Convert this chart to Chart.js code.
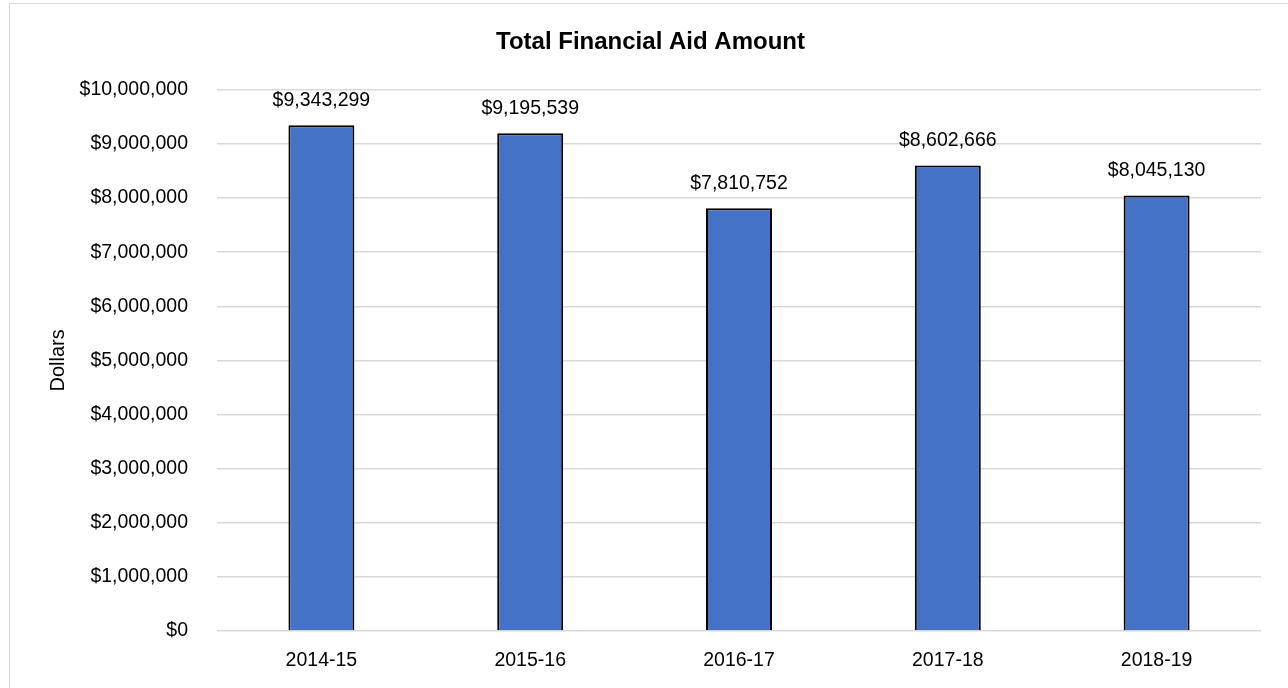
<!DOCTYPE html>
<html>
<head>
<meta charset="utf-8">
<title>Total Financial Aid Amount</title>
<script src="https://cdn.jsdelivr.net/npm/chart.js@4"></script>
<style>
  html, body { margin: 0; padding: 0; background: #fff; overflow: hidden; }
  #wrap { position: relative; width: 1288px; height: 688px; }
  #frame { position: absolute; left: 9px; top: 3px; width: 1400px; height: 800px; border: 1px solid #d9d9d9; box-sizing: border-box; }
  #chart-box { position: absolute; left: 0; top: 0; width: 1288px; height: 688px; }
</style>
</head>
<body>
<div id="wrap">
  <div id="frame"></div>
  <div id="chart-box"><canvas id="aid-chart"></canvas></div>
</div>
<script>
var years = ["2014-15", "2015-16", "2016-17", "2017-18", "2018-19"]
var aidAmount = [9343299, 9195539, 7810752, 8602666, 8045130]
var yMin = 0
var yMax = 10000000
var yStep = 1000000

var fontFamily = "'Liberation Sans', Arial, sans-serif"

function money(v) {
    return "$" + Number(v).toLocaleString("en-US")
}

// labels above each bar
var barLabels = {
    id: "barLabels",
    afterDatasetsDraw: function (chart) {
        let ctx = chart.ctx
        let meta = chart.getDatasetMeta(0)
        ctx.save()
        ctx.font = "19.5px " + fontFamily
        ctx.fillStyle = "#000"
        ctx.textAlign = "center"
        ctx.textBaseline = "middle"
        meta.data.forEach(function (bar, i) {
            ctx.fillText(money(chart.data.datasets[0].data[i]), bar.x, bar.y - 25)
        })
        ctx.restore()
    }
}

var myBarChart = new Chart("aid-chart", {
    type: "bar",
    data: {
        labels: years,
        datasets: [
            {
                label: "Total Financial Aid Amount",
                data: aidAmount,
                backgroundColor: "#4472c4",
                borderColor: "#000",
                borderWidth: 2,
                borderSkipped: "bottom",
                categoryPercentage: 1,
                barPercentage: 0.316
            }
        ]
    },
    options: {
        responsive: true,
        maintainAspectRatio: false,
        animation: false,
        layout: { padding: { left: 40, right: 27, top: 0, bottom: 0 } },
        plugins: {
            legend: { display: false },
            tooltip: { enabled: false },
            title: {
                display: true,
                text: "Total Financial Aid Amount",
                color: "#000",
                font: { family: fontFamily, size: 24, weight: "bold", lineHeight: 1.2 },
                padding: { top: 28, bottom: 33 }
            }
        },
        scales: {
            x: {
                grid: { display: false, drawTicks: false },
                border: { display: false },
                ticks: { color: "#000", padding: 18, font: { family: fontFamily, size: 19.5 } },
                afterFit: function (scale) { scale.height = 57 }
            },
            y: {
                min: yMin,
                max: yMax,
                ticks: {
                    stepSize: yStep,
                    color: "#000",
                    padding: 29,
                    font: { family: fontFamily, size: 19.5 },
                    callback: function (v) { return money(v) }
                },
                grid: { color: "#d9d9d9", lineWidth: 1.5, drawTicks: false },
                border: { display: false },
                title: {
                    display: true,
                    text: "Dollars",
                    color: "#000",
                    font: { family: fontFamily, size: 20 },
                    padding: { top: 6, bottom: 0 }
                },
                afterFit: function (scale) { scale.width = 177 }
            }
        }
    },
    plugins: [barLabels]
});
</script>
</body>
</html>
